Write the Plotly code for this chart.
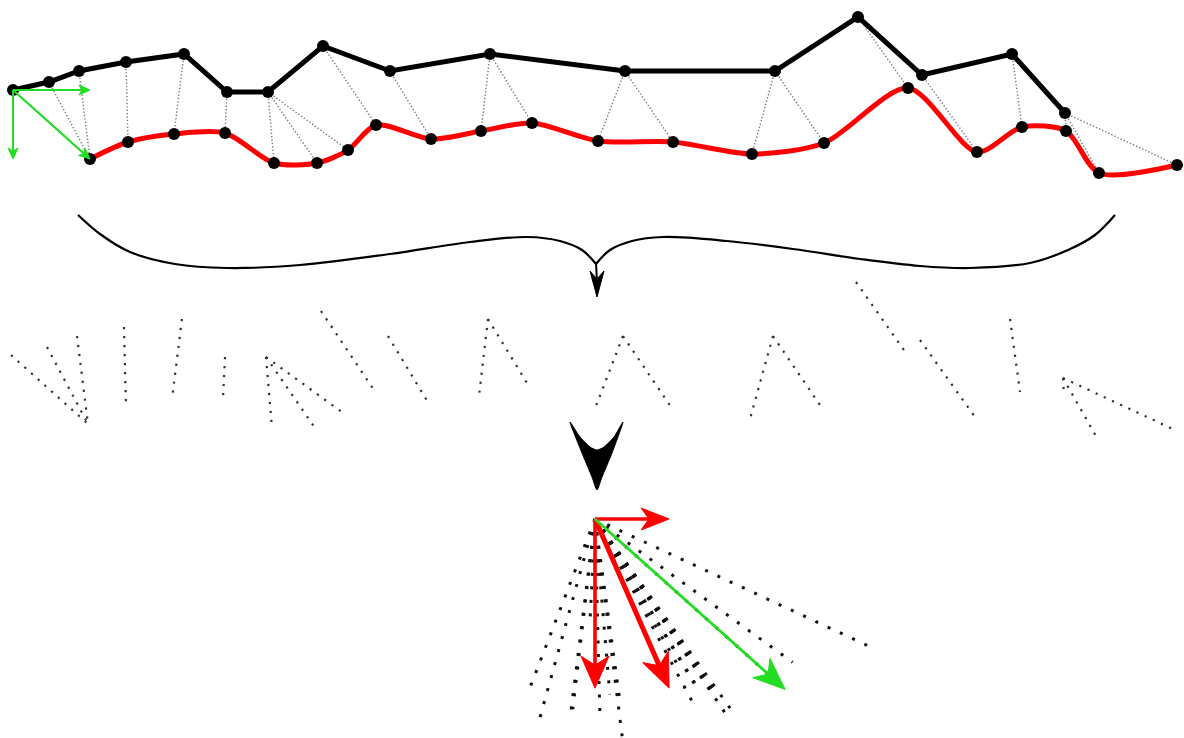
import numpy as np
import plotly.graph_objects as go

# ---------------- data ----------------
# black (source) polyline vertices
black_x = [13, 49, 79, 126, 184, 227, 268, 323, 390, 490, 625, 775, 858, 922, 1012, 1065]
black_y = [90, 82, 71, 62, 54, 92, 92, 46, 71, 54, 71, 71, 17, 75, 54, 113]
# red (target) curve vertices
red_x = [90, 128, 174, 225, 274, 317, 348, 376, 431, 481, 532, 598, 673, 752, 824, 908, 977, 1022, 1066, 1099, 1177]
red_y = [159, 142, 134, 133, 163, 163, 150, 125, 139, 131, 123, 141, 142, 154, 143, 88, 152, 127, 131, 173, 165]
# correspondences: black index -> red index
pair_black = [0, 1, 2, 3, 4, 5, 6, 6, 6, 7, 8, 9, 9, 10, 10, 11, 11, 12, 13, 14, 15, 15, 15]
pair_red = [0, 0, 0, 1, 2, 3, 4, 5, 6, 7, 8, 9, 10, 11, 12, 13, 14, 15, 16, 17, 18, 19, 20]

# brace outline (curly bracket, two halves meeting at the cusp) and arrow glyphs
brace_left_x = [78, 100, 130, 175, 227, 300, 390, 470, 527, 560, 582, 596]
brace_left_y = [215, 234, 252, 264, 268, 265, 254, 242, 237, 241, 250, 264]
brace_right_x = [596, 610, 632, 663, 727, 793, 860, 920, 970, 1030, 1068, 1095, 1115]
brace_right_y = [264, 250, 241, 237, 241, 249, 259, 266, 268, 263, 250, 235, 215]
small_head_x = [590, 597, 604, 597, 590]
small_head_y = [271, 279, 271, 297, 271]
chevron_x = [570, 580, 590, 597, 604, 614, 623, 612, 602, 597, 592, 582, 570]
chevron_y = [422, 437, 447, 450, 447, 437, 422, 453, 477, 490, 477, 453, 422]

# layout constants
W, H = 1184, 738
MID_DX, MID_DY = -2, 265          # offset of the "exploded" middle row
ORIGIN = (595, 519)                # common origin of the bottom fan
FAN_K = 2.47                       # magnification of displacement vectors

bx = np.array(black_x, float); by = np.array(black_y, float)
rx = np.array(red_x, float); ry = np.array(red_y, float)
pb = np.array(pair_black); pr = np.array(pair_red)
vx = rx[pr] - bx[pb]
vy = ry[pr] - by[pb]

fig = go.Figure()

def seg(x0, y0, x1, y1, color, width, dash="solid"):
    fig.add_trace(go.Scatter(x=[x0, x1], y=[y0, y1], mode="lines",
                             line=dict(color=color, width=width, dash=dash),
                             hoverinfo="skip", showlegend=False))

def arrow(x0, y0, x1, y1, color, width, L, Wd):
    d = np.array([x1 - x0, y1 - y0], float)
    n = np.hypot(*d)
    u = d / n
    p = np.array([-u[1], u[0]])
    tip = np.array([x1, y1], float)
    base = tip - L * u
    notch = tip - 0.72 * L * u
    c1 = base + Wd * p
    c2 = base - Wd * p
    sx, sy = notch
    seg(x0, y0, sx, sy, color, width)
    fig.add_trace(go.Scatter(x=[tip[0], c1[0], notch[0], c2[0], tip[0]],
                             y=[tip[1], c1[1], notch[1], c2[1], tip[1]],
                             mode="lines", fill="toself", fillcolor=color,
                             line=dict(color=color, width=1),
                             hoverinfo="skip", showlegend=False))

# ---- top: dotted correspondences ----
for i in range(len(pb)):
    seg(bx[pb[i]], by[pb[i]], rx[pr[i]], ry[pr[i]], "#7a7a7a", 1.4, "1.4px,2px")

# red curve
fig.add_trace(go.Scatter(x=red_x, y=red_y, mode="lines",
                         line=dict(color="#ff0000", width=5, shape="spline", smoothing=0.8),
                         hoverinfo="skip", showlegend=False))
# black polyline
fig.add_trace(go.Scatter(x=black_x, y=black_y, mode="lines",
                         line=dict(color="#000000", width=5),
                         hoverinfo="skip", showlegend=False))
# markers
fig.add_trace(go.Scatter(x=black_x + red_x, y=black_y + red_y, mode="markers",
                         marker=dict(color="#000000", size=12, line=dict(width=0)),
                         hoverinfo="skip", showlegend=False))

# green arrows at the first black vertex (vector of first correspondence + its components)
g0x, g0y = bx[pb[0]], by[pb[0]]
gvx, gvy = vx[0], vy[0]
arrow(g0x, g0y, g0x + gvx, g0y, "#22dd22", 2, 11, 5)
arrow(g0x, g0y, g0x, g0y + gvy, "#22dd22", 2, 11, 5)
arrow(g0x, g0y, g0x + gvx, g0y + gvy, "#22dd22", 2.2, 11, 5)

# ---- brace and arrows ----
for bxs, bys in ((brace_left_x, brace_left_y), (brace_right_x, brace_right_y)):
    fig.add_trace(go.Scatter(x=bxs, y=bys, mode="lines",
                             line=dict(color="#000000", width=2.2, shape="spline", smoothing=1.0),
                             hoverinfo="skip", showlegend=False))
seg(596, 263, 597, 282, "#000000", 2)
fig.add_trace(go.Scatter(x=small_head_x, y=small_head_y, mode="lines", fill="toself",
                         fillcolor="#000000", line=dict(color="#000000", width=1),
                         hoverinfo="skip", showlegend=False))
fig.add_trace(go.Scatter(x=chevron_x, y=chevron_y, mode="lines", fill="toself",
                         fillcolor="#000000", line=dict(color="#000000", width=1, shape="spline", smoothing=0.6),
                         hoverinfo="skip", showlegend=False))

# ---- middle: exploded correspondences ----
for i in range(len(pb)):
    seg(bx[pb[i]] + MID_DX, by[pb[i]] + MID_DY, rx[pr[i]] + MID_DX, ry[pr[i]] + MID_DY,
        "#333333", 2.2, "2.2px,6.8px")

# ---- bottom: fan of displacement vectors from a common origin ----
ox, oy = ORIGIN
for i in range(len(pb)):
    seg(ox, oy, ox + FAN_K * vx[i], oy + FAN_K * vy[i], "#111111", 3, "3px,10.5px")

mx, my = vx.mean(), vy.mean()
arrow(ox, oy, ox + FAN_K * mx, oy, "#ff0000", 3.6, 28, 11)
arrow(ox, oy, ox, oy + FAN_K * my, "#ff0000", 3.6, 32, 14)
arrow(ox, oy, ox + FAN_K * mx, oy + FAN_K * my, "#ff0000", 5, 34, 14)
arrow(ox, oy, ox + FAN_K * gvx, oy + FAN_K * gvy, "#22dd22", 2.8, 32, 13)

fig.update_layout(
    width=W, height=H, autosize=False,
    margin=dict(l=0, r=0, t=0, b=0),
    paper_bgcolor="white", plot_bgcolor="white",
    xaxis=dict(range=[0, W], visible=False, fixedrange=True),
    yaxis=dict(range=[H, 0], visible=False, fixedrange=True),
    showlegend=False,
)

fig.write_html("out.html", config={"displayModeBar": False},
               post_script="document.body.style.margin='0';document.body.style.overflow='hidden';")
